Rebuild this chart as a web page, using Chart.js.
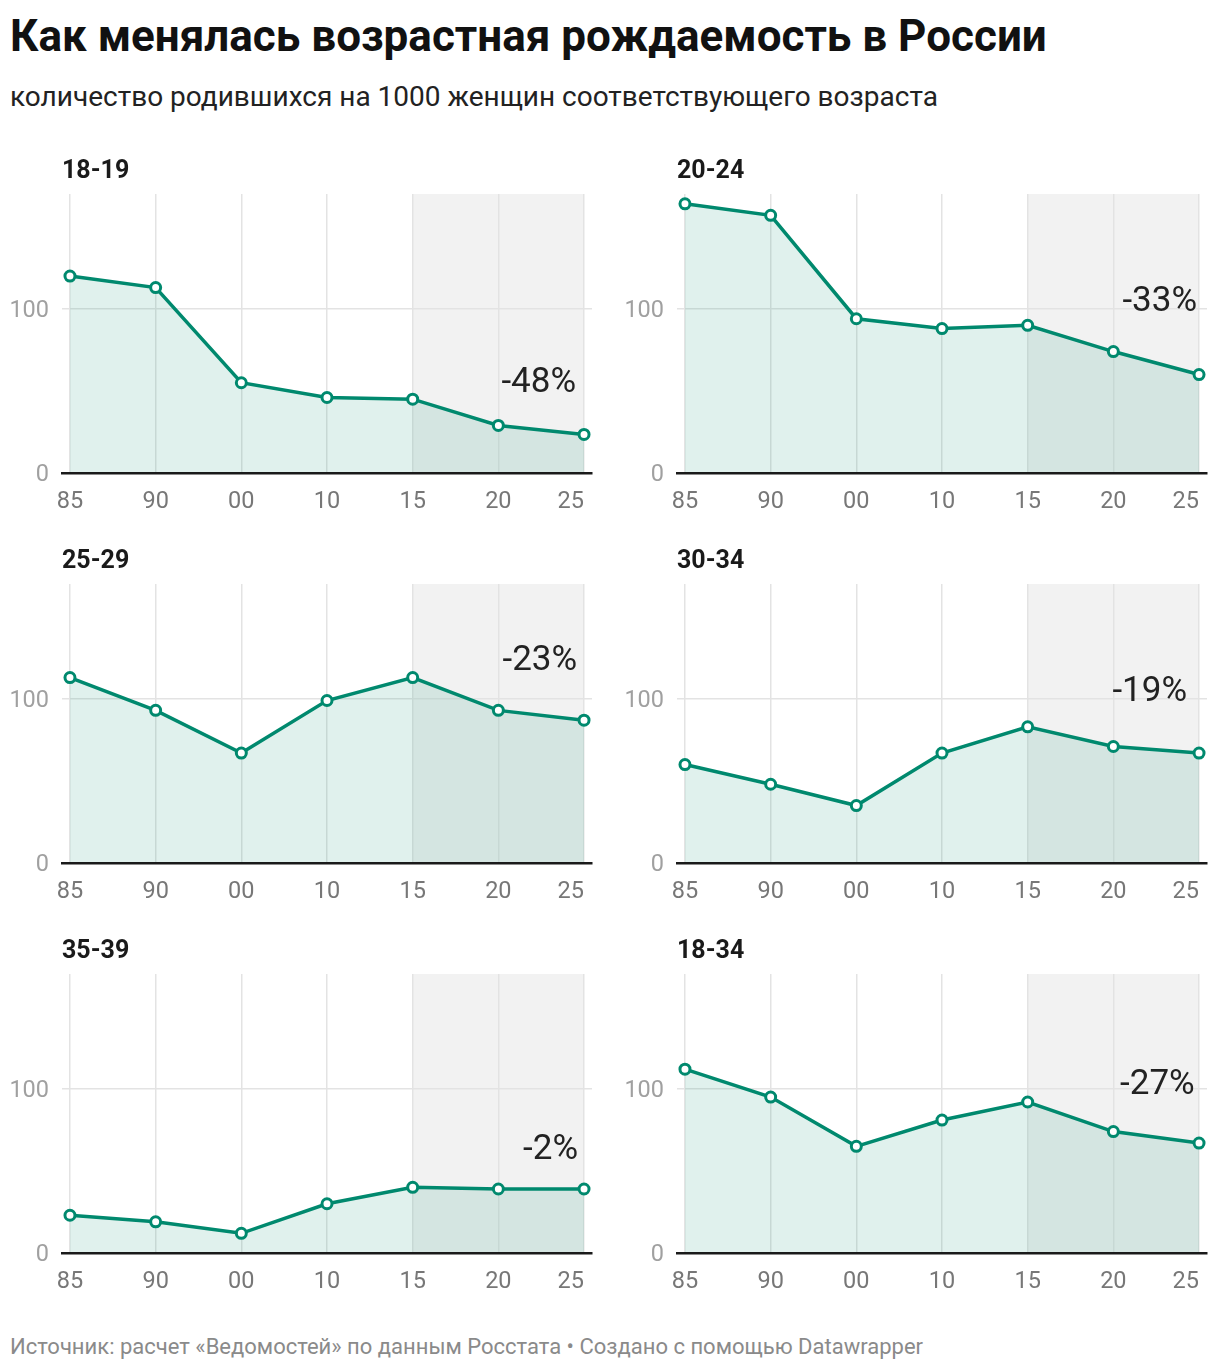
<!DOCTYPE html>
<html lang="ru">
<head>
<meta charset="utf-8">
<script src="https://cdn.jsdelivr.net/npm/chart.js@4.4.1/dist/chart.umd.min.js"></script>
<style>
  html, body { margin: 0; padding: 0; background: #fff; }
  body { width: 1220px; height: 1370px; position: relative; font-family: Roboto, "Noto Sans", sans-serif; overflow: hidden; }
  .title { position: absolute; left: 10px; top: 10px; font-size: 44px; font-weight: 700; color: #111; line-height: 52px; white-space: nowrap; }
  .subtitle { position: absolute; left: 10px; top: 80px; font-size: 28px; color: #222; line-height: 34px; white-space: nowrap; }
  .ptitle { position: absolute; font-size: 25px; font-weight: 700; color: #1a1a1a; line-height: 30px; }
  .panel { position: absolute; width: 600px; height: 338px; }
  .panel canvas { display: block; }
  .footer { position: absolute; left: 10px; top: 1334px; font-size: 22px; color: #8a8a8a; line-height: 26px; white-space: nowrap; }
</style>
</head>
<body>
<div class="title">Как менялась возрастная рождаемость в России</div>
<div class="subtitle">количество родившихся на 1000 женщин соответствующего возраста</div>
<div id="wrap"></div>
<div class="footer">Источник: расчет «Ведомостей» по данным Росстата • Создано с помощью Datawrapper</div>
<script>
// ---- data ----
const years = ['85', '90', '00', '10', '15', '20', '25'];
const groups = ['18-19', '20-24', '25-29', '30-34', '35-39', '18-34'];
const v1819 = [120, 113, 55, 46, 45, 29, 23.5];
const v2024 = [164, 157, 94, 88, 90, 74, 60];
const v2529 = [113, 93, 67, 99, 113, 93, 87];
const v3034 = [60, 48, 35, 67, 83, 71, 67];
const v3539 = [23, 19, 12, 30, 40, 39, 39];
const v1834 = [112, 95, 65, 81, 92, 74, 67];
const changes = ['-48%', '-33%', '-23%', '-19%', '-2%', '-27%'];
const yTicks = [0, 100];
const highlightFrom = '15';
const highlightTo = '25';

// ---- layout (positions kept apart from data) ----
const seriesList = [v1819, v2024, v2529, v3034, v3539, v1834];
const annX = [5.907, 5.977, 5.92, 5.86, 5.93, 5.95];
const annY = [56.7, 106, 125, 106, 64.3, 104.3];
const colLeft = [0, 615];
const rowTop = [180, 570, 960];
const W = 600, H = 338;

const LINE = '#00896e';

const shadePlugin = {
  id: 'shade',
  beforeDraw(chart) {
    const { ctx, chartArea, scales } = chart;
    const x0 = scales.x.getPixelForValue(years.indexOf(highlightFrom));
    const x1 = scales.x.getPixelForValue(years.indexOf(highlightTo));
    ctx.save();
    ctx.fillStyle = '#f2f2f2';
    ctx.fillRect(x0, chartArea.top, x1 - x0, chartArea.bottom - chartArea.top);
    ctx.restore();
  }
};

const xLabelPlugin = {
  id: 'xlabels',
  afterDraw(chart) {
    const { ctx, chartArea, scales } = chart;
    ctx.save();
    ctx.font = '23.5px Roboto';
    ctx.fillStyle = '#777';
    ctx.textBaseline = 'middle';
    years.forEach((lab, i) => {
      const x = scales.x.getPixelForValue(i);
      ctx.textAlign = (i === years.length - 1) ? 'right' : 'center';
      ctx.fillText(lab, x, chartArea.bottom + 29);
    });
    ctx.restore();
  }
};

const annPlugin = {
  id: 'ann',
  afterDatasetsDraw(chart, args, opts) {
    const { ctx, scales } = chart;
    ctx.save();
    ctx.font = '35px Roboto';
    ctx.fillStyle = '#222';
    ctx.textAlign = 'right';
    ctx.textBaseline = 'middle';
    ctx.fillText(opts.text, scales.x.getPixelForValue(opts.x), scales.y.getPixelForValue(opts.y) + 3);
    ctx.restore();
  }
};

const wrap = document.getElementById('wrap');
groups.forEach((g, k) => {
  const col = k % 2, row = Math.floor(k / 2);
  const left = colLeft[col], top = rowTop[row];

  const t = document.createElement('div');
  t.className = 'ptitle';
  t.textContent = g;
  t.style.left = (left + 62) + 'px';
  t.style.top = (top - 25) + 'px';
  document.body.appendChild(t);

  const d = document.createElement('div');
  d.className = 'panel';
  d.style.left = left + 'px';
  d.style.top = top + 'px';
  const c = document.createElement('canvas');
  c.width = W;
  c.height = H;
  c.style.width = W + 'px';
  c.style.height = H + 'px';
  d.appendChild(c);
  wrap.appendChild(d);

  new Chart(c, {
    type: 'line',
    data: {
      datasets: [{
        data: seriesList[k].map((v, i) => ({ x: i, y: v })),
        borderColor: LINE,
        borderWidth: 3.5,
        backgroundColor: 'rgba(0,137,110,0.12)',
        fill: 'origin',
        tension: 0,
        pointRadius: 5,
        pointBorderWidth: 3,
        pointBackgroundColor: '#fff',
        pointBorderColor: LINE,
        clip: false
      }]
    },
    options: {
      responsive: false,
      devicePixelRatio: 1,
      animation: false,
      events: [],
      layout: { padding: { top: 14, right: 7, left: 0, bottom: 0 } },
      plugins: {
        legend: { display: false },
        tooltip: { enabled: false },
        ann: { text: changes[k], x: annX[k], y: annY[k] }
      },
      scales: {
        x: {
          type: 'linear',
          min: -0.093,
          max: 6.093,
          afterBuildTicks: s => { s.ticks = years.map((_, i) => ({ value: i })); },
          afterFit: s => { s.height = 45; s.paddingLeft = 0; s.paddingRight = 0; },
          ticks: { display: false },
          grid: { color: '#e3e3e3', lineWidth: 1.5, drawTicks: false },
          border: { display: true, color: '#1a1a1a', width: 2.5, z: 1 }
        },
        y: {
          min: 0,
          max: 170,
          afterBuildTicks: s => { s.ticks = yTicks.map(v => ({ value: v })); },
          afterFit: s => { s.width = 62; s.paddingTop = 0; s.paddingBottom = 0; },
          ticks: { color: '#a0a0a0', font: { family: 'Roboto', size: 23.5 }, padding: 13, labelOffset: 2 },
          grid: { color: '#e3e3e3', lineWidth: 1.5, drawTicks: false },
          border: { display: false }
        }
      }
    },
    plugins: [shadePlugin, xLabelPlugin, annPlugin]
  });
});
</script>
</body>
</html>
